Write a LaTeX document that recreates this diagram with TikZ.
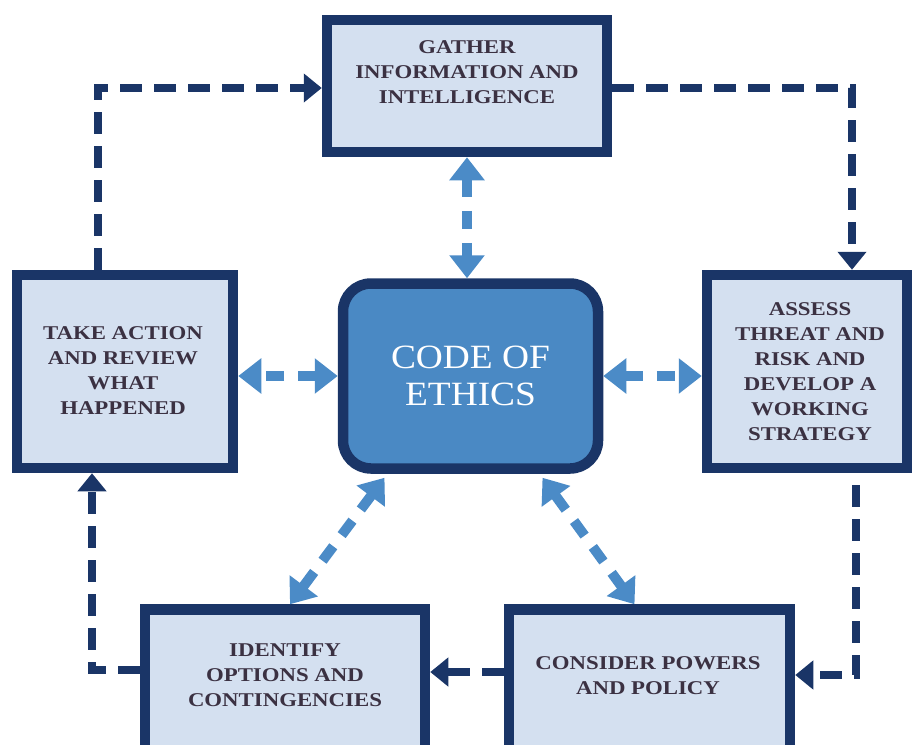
\documentclass[tikz,border=0pt]{standalone}
\usepackage{fontspec}
\setmainfont{Liberation Serif}
\newfontfamily\boxfont{Liberation Serif}[FakeStretch=1.17]
\newfontfamily\codefont{Liberation Serif}[FakeStretch=1.1]
\usetikzlibrary{arrows.meta,calc}

\definecolor{navy}{HTML}{1A3567}
\definecolor{paleblue}{HTML}{D4E0F0}
\definecolor{codefill}{HTML}{4A89C4}
\definecolor{lightarrow}{HTML}{4B8BC7}
\definecolor{textcol}{HTML}{3B3142}

\tikzset{
  stagebox/.style={draw=navy, fill=paleblue, line width=10.5pt, rectangle},
  stagetext/.style={text=textcol, align=center,
    font=\boxfont\bfseries\fontsize{19.5}{25}\selectfont},
  darkflow/.style={draw=navy, line width=8pt, dash pattern=on 22pt off 12pt,
    -{Triangle[width=28pt,length=18pt]}},
  lightflow/.style={draw=lightarrow, line width=10pt, dash pattern=on 18pt off 14pt,
    {Triangle[width=34pt,length=23pt]}-{Triangle[width=34pt,length=23pt]}},
}

\begin{document}
\begin{tikzpicture}[x=1pt,y=-1pt]
  \useasboundingbox (0,0) rectangle (912,744);

  % stage boxes
  \node[stagebox, minimum width=280pt, minimum height=132pt] (ga) at (467,86) {};
  \node[stagebox, minimum width=216pt, minimum height=193pt] (ta) at (125,371.5) {};
  \node[stagebox, minimum width=200pt, minimum height=193pt] (as) at (807,371.5) {};
  \node[stagebox, minimum width=280pt, minimum height=145pt] (ip) at (285,682) {};
  \node[stagebox, minimum width=281pt, minimum height=145pt] (cp) at (649.5,682) {};

  % stage labels
  \node[stagetext] (gat) at (467,72) {GATHER\\INFORMATION AND\\INTELLIGENCE};
  \node[stagetext] (tat) at (123,371) {TAKE ACTION\\AND REVIEW\\WHAT\\HAPPENED};
  \node[stagetext] (ast) at (810,372) {ASSESS\\THREAT AND\\RISK AND\\DEVELOP A\\WORKING\\STRATEGY};
  \node[stagetext] (ipt) at (285,675) {IDENTIFY\\OPTIONS AND\\CONTINGENCIES};
  \node[stagetext] (cpt) at (648,676) {CONSIDER POWERS\\AND POLICY};

  % central box
  \node[draw=navy, fill=codefill, line width=10.5pt, rounded corners=28pt,
        minimum width=255pt, minimum height=185pt, text=white, align=center,
        font=\codefont\fontsize{34}{37}\selectfont] (code) at (470.5,376) {CODE OF\\ETHICS};

  % cycle of stages
  \draw[darkflow] ($(ta.north)+(-27,0)$) |- ($(ga.west)+(0,2)$);
  \draw[darkflow] ($(ga.east)+(0,2)$) -| ($(as.north)+(45,0)$);
  \draw[darkflow] ($(as.south)+(49,12)$) |- ($(cp.east)+(0,-7)$);
  \draw[darkflow] ($(cp.west)+(0,-10)$) -- ($(ip.east)+(0,-10)$);
  \draw[darkflow] ($(ip.west)+(0,-12)$) -| ($(ta.south)+(-33,0)$);

  % links to the code of ethics
  \draw[lightflow] (ga.south) -- (ga.south |- code.north);
  \draw[lightflow] (code.west) -- (code.west -| ta.east);
  \draw[lightflow] (code.east) -- (code.east -| as.west);
  \draw[lightflow] ($(code.south)+(-86,4)$) -- ($(ip.north)+(5,0)$);
  \draw[lightflow] ($(code.south)+(72,4)$) -- ($(cp.north)+(-15,0)$);
\end{tikzpicture}
\end{document}
